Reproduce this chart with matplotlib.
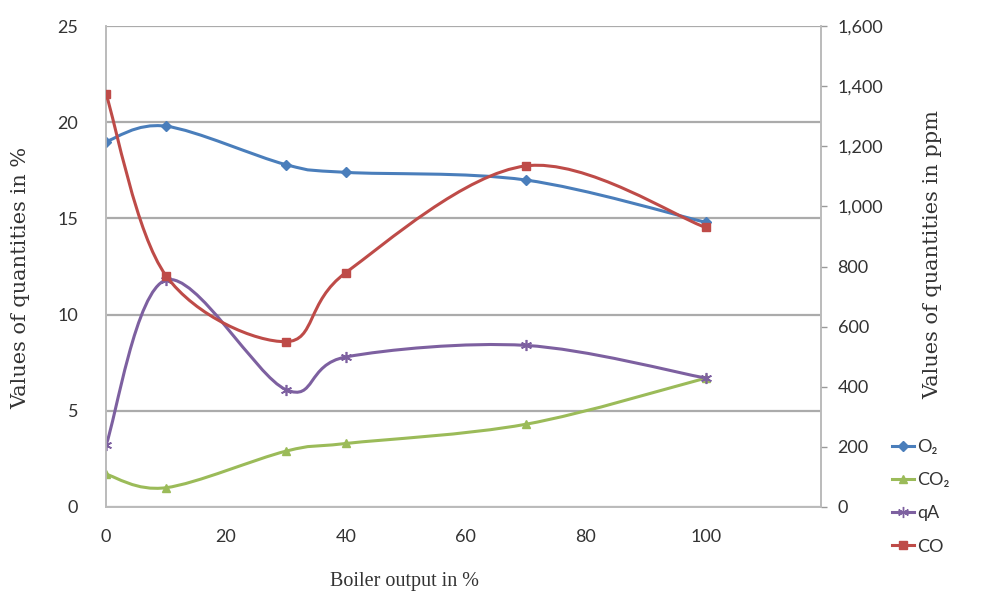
import numpy as np
import matplotlib
matplotlib.use("Agg")
import matplotlib.pyplot as plt
from matplotlib.path import Path
from matplotlib.patches import PathPatch
from matplotlib.lines import Line2D

# Boiler output in %
output = [0, 10, 30, 40, 70, 100]

# left axis (%)
o2 = [19.0, 19.8, 17.8, 17.4, 17.0, 14.8]
co2 = [1.7, 1.0, 2.9, 3.3, 4.3, 6.7]
qa = [3.2, 11.8, 6.1, 7.8, 8.4, 6.7]
# right axis (ppm)
co = [1375, 770, 550, 780, 1135, 930]

COLORS = {
    "O2": "#4A7EBB",
    "CO2": "#9BBB59",
    "qA": "#7D60A0",
    "CO": "#BE4B48",
}

SANS = "Lato"
SERIF = "Liberation Serif"
WIDE_SERIF = "DejaVu Serif"
TXT = "#333333"
GRID = "#ABABAB"


def smooth_path(x, y):
    """Excel-like smoothed line as cubic Bezier path through the points."""
    pts = np.column_stack([x, y]).astype(float)
    n = len(pts)
    verts = [pts[0]]
    codes = [Path.MOVETO]
    for i in range(n - 1):
        p0 = pts[max(i - 1, 0)]
        p1 = pts[i]
        p2 = pts[i + 1]
        p3 = pts[min(i + 2, n - 1)]
        c1 = p1 + (p2 - p0) / 6.0
        c2 = p2 - (p3 - p1) / 6.0
        verts += [c1, c2, p2]
        codes += [Path.CURVE4] * 3
    return Path(verts, codes)


def draw_series(ax, x, y, color, marker, ms, mew=1.0):
    ax.add_patch(PathPatch(smooth_path(x, y), facecolor="none",
                           edgecolor=color, lw=2.2, zorder=3,
                           capstyle="round", joinstyle="round"))
    ax.plot(x, y, linestyle="none", marker=marker, ms=ms, color=color,
            mec=color, mew=mew, zorder=4)


fig = plt.figure(figsize=(9.84, 5.95), dpi=100)
ax = fig.add_axes([0.1077, 0.148, 0.7266, 0.808])
ax2 = ax.twinx()

draw_series(ax, output, o2, COLORS["O2"], "D", 5)
draw_series(ax, output, co2, COLORS["CO2"], "^", 6)
draw_series(ax, output, qa, COLORS["qA"], (6, 2, 0), 8, 1.2)
draw_series(ax2, output, co, COLORS["CO"], "s", 6)

ax.set_xlim(0, 119.2)
ax.set_ylim(0, 25)
ax2.set_ylim(0, 1600)
ax.set_xticks([0, 20, 40, 60, 80, 100])
ax.set_yticks([0, 5, 10, 15, 20, 25])
ax2.set_yticks(range(0, 1601, 200))
ax2.set_yticklabels([f"{v:,}" for v in range(0, 1601, 200)])

ax.yaxis.grid(True, color=GRID, lw=1.6)
ax.set_axisbelow(True)

for a in (ax, ax2):
    a.spines["top"].set_visible(False)
    for side in ("left", "right", "bottom"):
        a.spines[side].set_color("#BBBBBB")
        a.spines[side].set_linewidth(1.2)

ax.tick_params(axis="y", length=0, pad=20, labelsize=13, labelcolor=TXT)
ax.tick_params(axis="x", length=0, pad=16, labelsize=13, labelcolor=TXT)
ax2.tick_params(axis="y", length=4, width=1.0, color="#999999", pad=8,
                labelsize=13, labelcolor=TXT)
for lab in ax.get_xticklabels() + ax.get_yticklabels() + ax2.get_yticklabels():
    lab.set_fontfamily(SANS)

ax.set_xlabel("Boiler output in %", fontsize=14.5, family=SERIF, color=TXT)
ax.xaxis.set_label_coords((405 - 106) / (821 - 106), -0.135)
ax.set_ylabel("Values of quantities in %", fontsize=15, family=WIDE_SERIF,
              color=TXT)
ax.yaxis.set_label_coords(-0.106, 0.476)
ax2.set_ylabel("Values of quantities in ppm", fontsize=15, family=WIDE_SERIF,
               color=TXT)
ax2.yaxis.set_label_coords(1.143, 0.526)

handles = [
    Line2D([], [], color=COLORS["O2"], lw=2.2, marker="D", ms=5),
    Line2D([], [], color=COLORS["CO2"], lw=2.2, marker="^", ms=6),
    Line2D([], [], color=COLORS["qA"], lw=2.2, marker=(6, 2, 0), ms=8),
    Line2D([], [], color=COLORS["CO"], lw=2.2, marker="s", ms=6),
]
labels = ["O\u2082", "CO\u2082", "qA", "CO"]
leg = fig.legend(handles, labels, loc="upper left",
                 bbox_to_anchor=(0.906, 0.262), frameon=False,
                 handlelength=1.25, handletextpad=0.15, labelspacing=0.95,
                 borderaxespad=0, borderpad=0,
                 prop={"family": SANS, "size": 13})
for t in leg.get_texts():
    t.set_color(TXT)

fig.savefig("out.png", dpi=100)
